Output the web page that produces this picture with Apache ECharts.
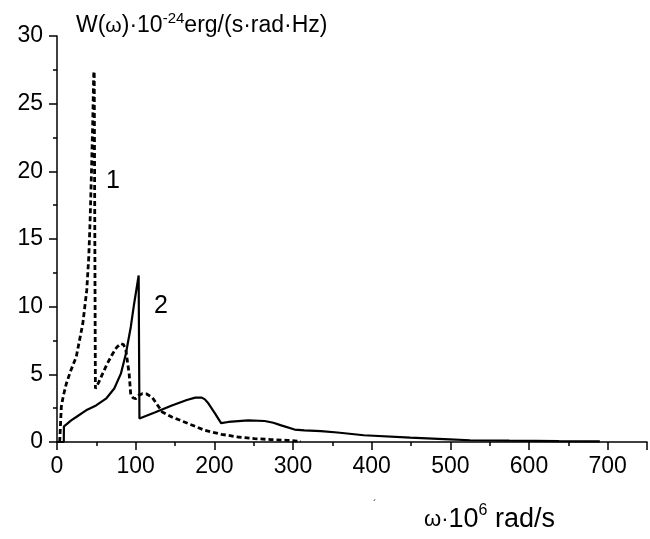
<!DOCTYPE html>
<html>
<head>
<meta charset="utf-8">
<script src="https://cdn.jsdelivr.net/npm/echarts@6/dist/echarts.min.js"></script>
<style>html,body{margin:0;padding:0;background:#fff;}#c{width:650px;height:539px;}</style>
</head>
<body>
<div id="c"></div>
<script>
// Curve 1 (dashed)
var omega1 = [3.4, 5.5, 8, 11.8, 17, 24.5, 32.8, 37.8, 40.4, 42, 43.8, 45.4, 46.7, 47.3, 48.8, 53, 58, 64, 70.6, 76, 81.2, 84.5, 87.5, 91.7, 93.8, 97, 100, 104, 108.5, 114, 121, 127, 133.7, 146, 167, 188, 209, 230, 251, 272, 293, 310];
var w1     = [0, 2.6, 3.4, 4.3, 5.2, 6.3, 8.75, 11.2, 13.7, 16.2, 19.9, 23.5, 27.2, 27.4, 3.95, 4.4, 5.05, 5.8, 6.5, 7.0, 7.27, 7.2, 6.8, 5.05, 3.45, 3.25, 3.2, 3.45, 3.57, 3.55, 3.3, 2.8, 2.22, 1.85, 1.36, 0.86, 0.57, 0.37, 0.25, 0.18, 0.12, 0.05];
// Curve 2 (solid)
var omega2 = [0, 8.6, 8.8, 12, 18, 24.5, 37, 49.7, 62.3, 72.8, 81.2, 87.5, 93.8, 98, 103.8, 104.8, 125, 146, 165, 175.8, 184, 188, 192.6, 201, 208.6, 217.8, 243, 264, 275, 285, 302, 314.5, 335.5, 356.5, 390, 449, 499, 525, 575, 638, 690];
var w2     = [0, 0, 1.15, 1.3, 1.6, 1.85, 2.34, 2.7, 3.2, 3.95, 5.05, 6.5, 8.5, 10.2, 12.3, 1.73, 2.2, 2.7, 3.1, 3.28, 3.28, 3.15, 2.84, 2.1, 1.4, 1.48, 1.6, 1.55, 1.42, 1.23, 0.92, 0.86, 0.81, 0.7, 0.5, 0.32, 0.2, 0.13, 0.1, 0.07, 0.05];
var xTicks = [0, 100, 200, 300, 400, 500, 600, 700];
var yTicks = [0, 5, 10, 15, 20, 25, 30];

function pairs(xs, ys) { return xs.map(function (x, i) { return [x, ys[i]]; }); }

var chart = echarts.init(document.getElementById('c'), null, {renderer: 'canvas'});
var F = '"Liberation Sans", Arial, sans-serif';
chart.setOption({
  animation: false,
  backgroundColor: '#ffffff',
  grid: {left: 57, top: 36, right: -2, bottom: 97, containLabel: false},
  xAxis: {
    type: 'value', min: 0, max: 750, interval: 100,
    axisLine: {show: true, onZero: false, lineStyle: {color: '#000', width: 1.5}},
    axisTick: {show: true, inside: false, length: 8, lineStyle: {color: '#000', width: 1.5}},
    minorTick: {show: true, splitNumber: 2, length: 4, lineStyle: {color: '#000', width: 1.5}},
    splitLine: {show: false},
    axisLabel: {
      margin: 13, color: '#000', fontSize: 23, fontFamily: F,
      formatter: function (v) { return xTicks.indexOf(v) >= 0 ? String(v) : ''; }
    }
  },
  yAxis: {
    type: 'value', min: 0, max: 30, interval: 5,
    axisLine: {show: true, onZero: false, lineStyle: {color: '#000', width: 1.5}},
    axisTick: {show: true, inside: false, length: 8, lineStyle: {color: '#000', width: 1.5}},
    minorTick: {show: true, splitNumber: 2, length: 4, lineStyle: {color: '#000', width: 1.5}},
    splitLine: {show: false},
    axisLabel: {
      margin: 14, color: '#000', fontSize: 23, fontFamily: F,
      formatter: function (v) { return yTicks.indexOf(v) >= 0 ? String(v) : ''; }
    }
  },
  series: [
    {
      type: 'line', data: pairs(omega1, w1), showSymbol: false, symbol: 'none', smooth: false,
      lineStyle: {color: '#000', width: 2.8, type: [5, 3]}, z: 3
    },
    {
      type: 'line', data: pairs(omega2, w2), showSymbol: false, symbol: 'none', smooth: false,
      lineStyle: {color: '#000', width: 2.2, type: 'solid'}, z: 4
    }
  ],
  graphic: [
    {
      type: 'text', left: 76, top: 11,
      style: {
        text: '{a|W(}{w|ω}{a|)·10}{s|-24}{a|erg/(s·rad·Hz)}',
        rich: {
          a: {fontSize: 23, fontFamily: F, fill: '#000', lineHeight: 30},
          w: {fontSize: 21, fontFamily: F, fill: '#000', lineHeight: 30},
          s: {fontSize: 15, fontFamily: F, fill: '#000', verticalAlign: 'top', lineHeight: 30, padding: [0, 0, 14, 0]}
        }
      }
    },
    {
      type: 'text', left: 424, top: 503,
      style: {
        text: '{w|ω·}{a|10}{s|6}{a| rad/s}',
        rich: {
          a: {fontSize: 27, fontFamily: F, fill: '#000', lineHeight: 34},
          w: {fontSize: 22, fontFamily: F, fill: '#000', lineHeight: 34},
          s: {fontSize: 16, fontFamily: F, fill: '#000', verticalAlign: 'top', lineHeight: 34, padding: [0, 0, 16, 0]}
        }
      }
    },
    {type: 'text', left: 373, top: 500, style: {text: '´', fontSize: 10, fontFamily: F, fill: '#000'}},
    {type: 'text', left: 106, top: 169, style: {text: '1', fontSize: 25, fontFamily: F, fill: '#000'}},
    {type: 'text', left: 154, top: 294, style: {text: '2', fontSize: 25, fontFamily: F, fill: '#000'}}
  ]
});
</script>
</body>
</html>
